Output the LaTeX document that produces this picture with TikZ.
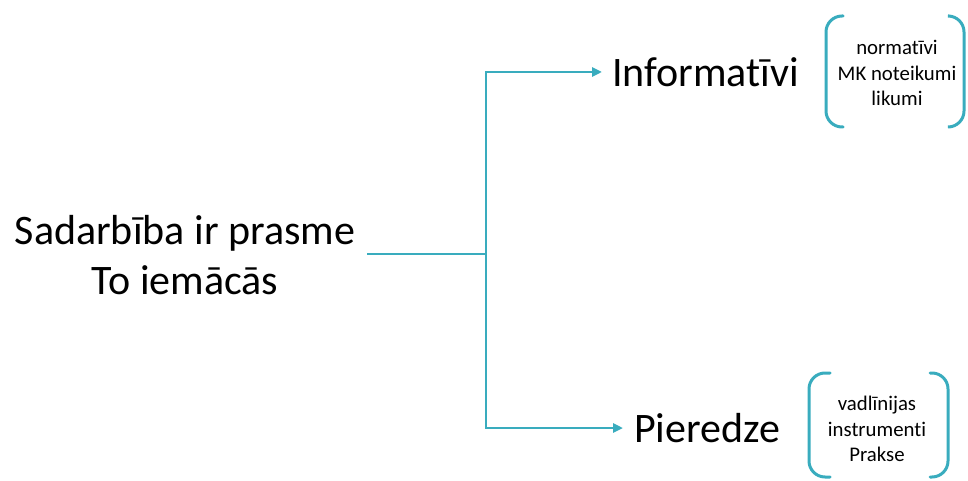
\documentclass[tikz,border=0pt]{standalone}
\usepackage{fontspec}
\setmainfont{Carlito}[Ligatures=NoCommon]
\usetikzlibrary{arrows.meta}
\definecolor{teal1}{RGB}{57,172,190}
\tikzset{
  conn/.style={draw=teal1, line width=2.8pt},
  arr/.style={conn, -{Triangle[length=10pt,width=9pt]}},
  brk/.style={draw=teal1, line width=3pt, rounded corners=16pt, line cap=round},
  big/.style={font=\fontsize{42}{50}\selectfont, align=center, inner sep=0pt},
  small/.style={font=\fontsize{20.8}{25.5}\selectfont, align=center, inner sep=0pt}
}
\begin{document}
\begin{tikzpicture}[x=1pt,y=-1pt]
\useasboundingbox (0,0) rectangle (968,481);
\node[big] (main) at (185,255) {Sadarbība ir prasme\\To iemācās};
\node[big, anchor=west] (inf) at (612,72) {Informatīvi};
\node[big, anchor=west] (pie) at (634,428) {Pieredze};
\node[small] (l1) at (897,73) {normatīvi\\MK noteikumi\\likumi};
\node[small] (l2) at (877,429) {vadlīnijas\\instrumenti\\Prakse};
\coordinate (j) at (486,254);
\coordinate (st) at (367,254);
\draw[conn] (st) -- (j);
\draw[arr] (j) |- ([xshift=-10pt]inf.west);
\draw[arr] (j) |- ([xshift=-11pt]pie.west);
% brackets
\draw[brk] (843,16) -- (826,16) -- (826,127) -- (843,127);
\draw[brk] (949,16) -- (964,16) -- (964,127) -- (949,127);
\draw[brk] (830,373) -- (809,373) -- (809,477) -- (830,477);
\draw[brk] (930,373) -- (948,373) -- (948,477) -- (930,477);
\end{tikzpicture}
\end{document}
